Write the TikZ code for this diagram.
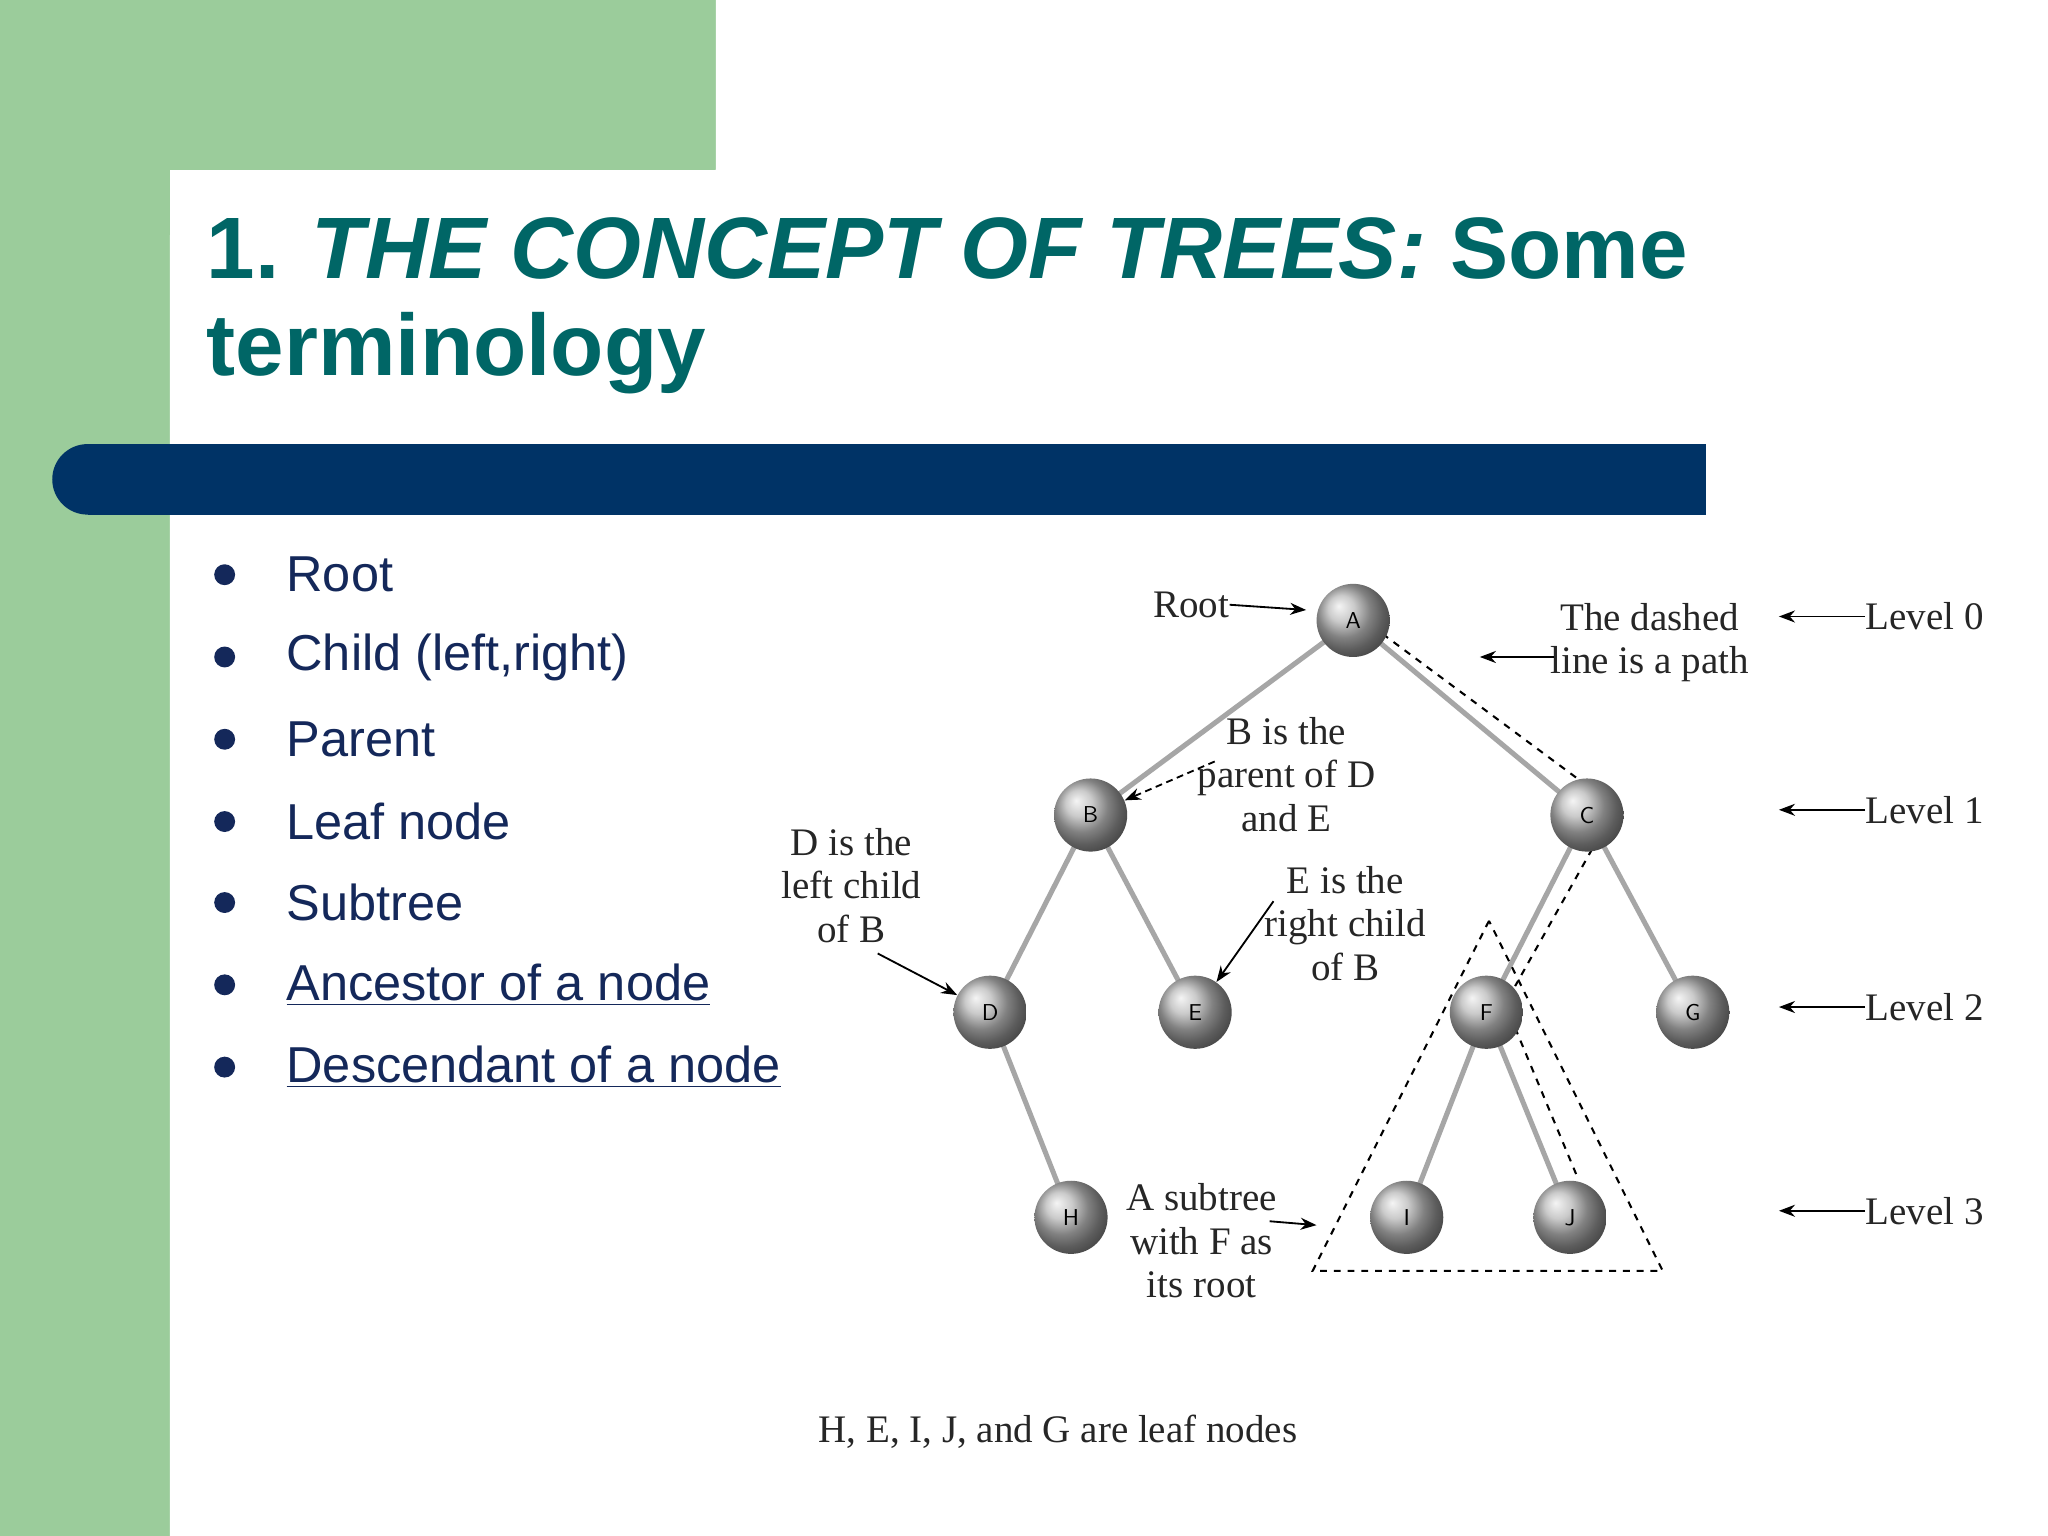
\documentclass[tikz,border=0pt]{standalone}
\usepackage{fontspec}
\setmainfont{Liberation Sans}
\newfontfamily\lblfont{Liberation Serif}
\usetikzlibrary{arrows.meta,calc}
\definecolor{sgreen}{RGB}{155,204,155}
\definecolor{teal}{RGB}{0,102,102}
\definecolor{navy}{RGB}{0,51,102}
\definecolor{btxt}{RGB}{20,40,90}
\begin{document}
\begin{tikzpicture}[x=0.02cm,y=-0.02cm,
  ball/.style={circle,minimum size=56*0.02cm,inner sep=0pt,ball color=gray!55,font=\sffamily\fontsize{10}{10}\selectfont},
  edge/.style={draw=gray!70,line width=2.2pt},
  lbl/.style={font=\lblfont\fontsize{17}{19}\selectfont,align=center,inner sep=0pt,text=black!85},
  arr/.style={-{Stealth[length=7pt]},line width=0.8pt},
  dsh/.style={dashed,line width=0.9pt},
  bul/.style={anchor=west,font=\fontsize{22}{24}\selectfont,text=btxt,inner sep=0pt}]
\useasboundingbox (0,0) rectangle (1568,1176);
\fill[sgreen] (0,0) rectangle (548,130);
\fill[sgreen] (0,0) rectangle (130,1176);
\fill[white] (130,1176) -- (130,180) arc[start angle=180,end angle=90,radius=50] -- (548,130) -- (548,0) -- (1568,0) -- (1568,1176) -- cycle;
\node[anchor=west,font=\bfseries\fontsize{38}{44}\selectfont,text=teal,inner sep=0pt] (t1) at (158,190) {1. \textit{THE CONCEPT OF TREES:} Some};
\node[anchor=west,font=\bfseries\fontsize{38}{44}\selectfont,text=teal,inner sep=0pt] (t2) at (158,270) {terminology};
\fill[navy] (67,340) rectangle (1306,394);
\fill[navy] (67,367) circle[radius=27];
\foreach \y/\t [count=\i] in {440/Root,503/{Child (left,right)},566/Parent,629/Leaf node,691/Subtree}{
  \fill[btxt] (172,\y) circle[radius=8];
  \node[bul] (b\i) at (219,\y) {\t};}
\fill[btxt] (172,754) circle[radius=8];
\node[bul] (b6) at (219,754) {\underline{Ancestor of a node}};
\fill[btxt] (172,817) circle[radius=8];
\begin{scope}
\clip (200,790) rectangle (600,850);
\node[bul] (b7) at (219,817) {\underline{Descendant of a node}};
\end{scope}
% tree
\coordinate (pA) at (1036,475); \coordinate (pB) at (835,624); \coordinate (pC) at (1215,624);
\coordinate (pD) at (758,775); \coordinate (pE) at (915,775); \coordinate (pF) at (1138,775);
\coordinate (pG) at (1296,775); \coordinate (pH) at (820,932); \coordinate (pI) at (1077,932); \coordinate (pJ) at (1202,932);
\draw[edge] (pA)--(pB) (pA)--(pC) (pB)--(pD) (pB)--(pE) (pC)--(pF) (pC)--(pG) (pD)--(pH) (pF)--(pI) (pF)--(pJ);
\draw[dsh] ($(pA)+(14,4)$) -- ($(pC)+(-2,-24)$);
\draw[dsh] ($(pC)+(4,26)$) -- ($(pF)+(22,-20)$);
\draw[dsh] ($(pF)+(22,12)$) -- ($(pJ)+(6,-30)$);
\draw[dsh] (1140,705) -- (1005,973) -- (1273,973) -- cycle;
\foreach \n in {A,B,C,D,E,F,G,H,I,J}{\node[ball] (\n) at (p\n) {\n};}
% labels
\node[lbl] (lroot) at (912,463) {Root};
\draw[arr] (lroot.east) -- (1000,467);
\node[lbl] (ldash) at (1263,492) {The dashed\\line is a path};
\draw[arr] (1190,503) -- (1133,503);
\node[lbl] (lpar) at (985,593) {B is the\\parent of D\\and E};
\draw[arr,densely dashed] (930,583) -- (B);
\node[lbl] (lleft) at (652,678) {D is the\\left child\\of B};
\draw[arr] (672,730) -- (D);
\node[lbl] (lright) at (1030,707) {E is the\\right child\\of B};
\draw[arr] (975,690) -- (E);
\node[lbl] (lsub) at (920,950) {A subtree\\with F as\\its root};
\draw[arr] (972,935) -- (1008,938);
\foreach \y/\l in {472/0,620/1,771/2,927/3}{
  \node[lbl,anchor=west] (lv\l) at (1428,\y) {Level \l};
  \draw[arr] (lv\l.west) -- (1362,\y);}
\node[lbl] (cap) at (810,1096) {H, E, I, J, and G are leaf nodes};
\end{tikzpicture}
\end{document}
